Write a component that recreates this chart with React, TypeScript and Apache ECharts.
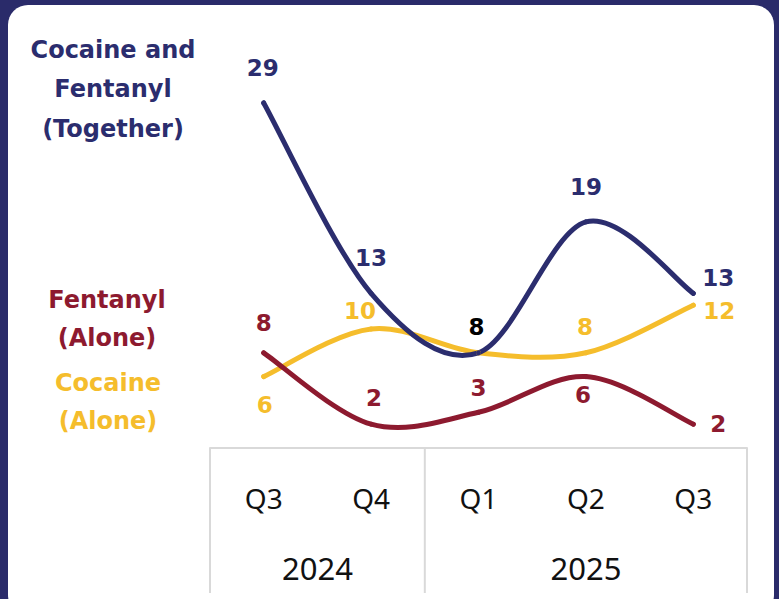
import React, { useEffect, useRef } from "react";
import * as echarts from "echarts";

const quarters = ["Q3", "Q4", "Q1", "Q2", "Q3"];
const years = ["2024", "2025"];
const quartersPerYear = [2, 3];

const togetherValues = [29, 13, 8, 19, 13];
const fentanylValues = [8, 2, 3, 6, 2];
const cocaineValues = [6, 10, 8, 8, 12];

const togetherName = ["Cocaine and", "Fentanyl", "(Together)"];
const fentanylName = ["Fentanyl", "(Alone)"];
const cocaineName = ["Cocaine", "(Alone)"];

const NAVY = "#2b2d6e";
const RED = "#8d1a2f";
const GOLD = "#f5bd2c";
const FONT = "'Noto Sans', 'Open Sans', sans-serif";
const BOLD_FONT = "'DejaVu Sans', 'Noto Sans', sans-serif";

// label offsets (style only)
const togetherOffsets = [[-1, -35], [0, -35], [-2, -26], [0, -35], [25, -15]];
const fentanylOffsets = [[0, -30], [3, -26], [0, -24], [-3, 18], [25, 0]];
const cocaineOffsets = [[1, 28], [-11, -18], null, [-1, -26], [26, 6]];

const GRID_LEFT = 210;
const GRID_RIGHT = 32;
const GRID_TOP = 91;
const GRID_BOTTOM = 151;
const W = 779;
const H = 599;

function buildData(values: number[], offsets: (number[] | null)[], color: string, special?: Record<number, string>) {
  return values.map((v, i) => {
    const off = offsets[i];
    return {
      value: v,
      label: off
        ? {
            show: true,
            position: "inside",
            offset: off,
            color: special && special[i] ? special[i] : color,
            fontSize: 23,
            fontWeight: 700,
            fontFamily: BOLD_FONT,
          }
        : { show: false },
    };
  });
}

// Catmull-Rom style smooth curve through the series points (via the axes' scales)
function curveSeries(values: number[], color: string, z: number) {
  return {
    type: "custom",
    coordinateSystem: "cartesian2d",
    silent: true,
    z,
    data: [[0, values[0]]],
    encode: { x: 0, y: 1 },
    renderItem: (params: any, api: any) => {
      const pts = values.map((v, i) => api.coord([i, v]));
      const n = pts.length;
      const P = (i: number) => pts[Math.max(0, Math.min(n - 1, i))];
      let d = `M${pts[0][0]},${pts[0][1]}`;
      for (let i = 0; i < n - 1; i++) {
        const p0 = P(i - 1), p1 = P(i), p2 = P(i + 1), p3 = P(i + 2);
        const c1x = p1[0] + (p2[0] - p0[0]) / 6;
        const c1y = p1[1] + (p2[1] - p0[1]) / 6;
        const c2x = p2[0] - (p3[0] - p1[0]) / 6;
        const c2y = p2[1] - (p3[1] - p1[1]) / 6;
        d += ` C${c1x},${c1y} ${c2x},${c2y} ${p2[0]},${p2[1]}`;
      }
      return {
        type: "path",
        shape: { pathData: d },
        style: { stroke: color, lineWidth: 5, fill: "none", lineCap: "round", lineJoin: "round" },
      };
    },
  };
}

export default function App() {
  const ref = useRef<HTMLDivElement>(null);
  useEffect(() => {
    if (!ref.current) return;
    const chart = echarts.init(ref.current, undefined, { renderer: "svg" });
    const plotW = W - GRID_LEFT - GRID_RIGHT;
    const band = plotW / quarters.length;
    const tableTop = H - GRID_BOTTOM;
    const tableBottom = 593;

    const graphics: any[] = [];
    const boundaries = [0];
    let acc = 0;
    quartersPerYear.forEach((c) => {
      acc += c;
      boundaries.push(acc);
    });
    boundaries.forEach((b) => {
      const x = GRID_LEFT + b * band;
      graphics.push({
        type: "line",
        shape: { x1: x, y1: tableTop, x2: x, y2: tableBottom },
        style: { stroke: "#d9d9d9", lineWidth: 2 },
        z: 1,
      });
    });
    let start = 0;
    years.forEach((y, i) => {
      const c = quartersPerYear[i];
      const cx = GRID_LEFT + (start + c / 2) * band;
      start += c;
      graphics.push({
        type: "text",
        x: cx,
        y: 568,
        style: {
          text: y,
          fill: "#111111",
          font: `400 31px ${FONT}`,
          textAlign: "center",
          textVerticalAlign: "middle",
        },
      });
    });
    const nameBlock = (lines: string[], cx: number, cy: number, color: string, lh: number) => ({
      type: "text",
      x: cx,
      y: cy,
      style: {
        text: lines.join("\n"),
        fill: color,
        font: `700 24px ${BOLD_FONT}`,
        fontSize: 24,
        fontWeight: 700,
        fontFamily: BOLD_FONT,
        lineHeight: lh,
        textAlign: "center",
        textVerticalAlign: "middle",
      },
    });
    graphics.push(nameBlock(togetherName, 113, 89, NAVY, 39.5));
    graphics.push(nameBlock(fentanylName, 107, 319, RED, 38));
    graphics.push(nameBlock(cocaineName, 108, 402, GOLD, 38));

    const labelSeries = (name: string, data: any[], color: string, z: number) => ({
      name,
      type: "line",
      symbol: "circle",
      symbolSize: 5,
      itemStyle: { color },
      lineStyle: { width: 0, opacity: 0 },
      data,
      z,
    });

    chart.setOption({
      animation: false,
      backgroundColor: "transparent",
      grid: { left: GRID_LEFT, right: GRID_RIGHT, top: GRID_TOP, bottom: GRID_BOTTOM },
      xAxis: {
        type: "category",
        data: quarters,
        boundaryGap: true,
        axisLine: { show: true, lineStyle: { color: "#d9d9d9", width: 2 } },
        axisTick: { show: false },
        axisLabel: {
          margin: 36,
          fontSize: 28,
          fontFamily: FONT,
          color: "#111111",
          lineHeight: 28,
        },
      },
      yAxis: {
        type: "value",
        min: 0,
        max: 30,
        show: false,
        splitLine: { show: false },
      },
      graphic: graphics,
      series: [
        curveSeries(cocaineValues, GOLD, 2),
        curveSeries(fentanylValues, RED, 3),
        curveSeries(togetherValues, NAVY, 4),
        labelSeries("Cocaine (Alone)", buildData(cocaineValues, cocaineOffsets, GOLD), GOLD, 5),
        labelSeries("Fentanyl (Alone)", buildData(fentanylValues, fentanylOffsets, RED), RED, 6),
        labelSeries(
          "Cocaine and Fentanyl (Together)",
          buildData(togetherValues, togetherOffsets, NAVY, { 2: "#000000" }),
          NAVY,
          7
        ),
      ],
    });
    return () => chart.dispose();
  }, []);

  return (
    <div style={{ position: "fixed", left: 0, top: 0, width: W, height: H, background: "#2a2b6a", overflow: "hidden" }}>
      <div
        style={{
          position: "absolute",
          left: 8,
          top: 5,
          width: 766,
          height: 610,
          borderRadius: 20,
          background: "#ffffff",
        }}
      />
      <div ref={ref} style={{ position: "absolute", left: 0, top: 0, width: W, height: H }} />
    </div>
  );
}
